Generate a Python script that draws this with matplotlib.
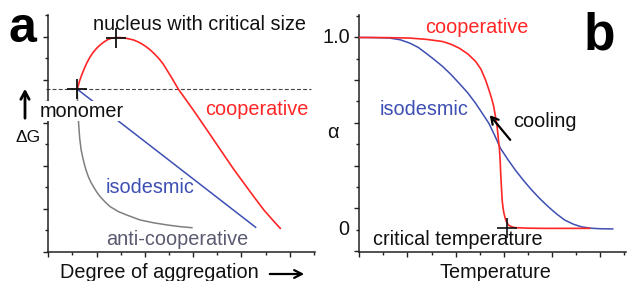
import matplotlib
matplotlib.use("Agg")
import matplotlib.pyplot as plt
from matplotlib.ticker import FixedLocator, NullFormatter

plt.rcParams['font.family'] = ['Liberation Sans', 'DejaVu Sans']

# ---------------- Panel a data (x: degree of aggregation, y: ΔG, axis-tick units)
coop_a_x = [1.20, 1.30, 1.40, 1.50, 1.59, 1.72, 1.85, 2.00, 2.15, 2.30, 2.45, 2.62, 2.80, 2.98, 3.15, 3.34,
            3.53, 3.72, 3.90, 4.06, 4.22, 4.41, 4.60, 4.76, 4.91, 5.15, 5.39, 5.62, 5.85, 6.07, 6.29,
            6.65, 7.00, 7.34, 7.68, 8.00, 8.30, 8.61, 8.92, 9.27, 9.61]
coop_a_y = [7.57, 7.97, 8.28, 8.55, 8.78, 9.05, 9.27, 9.47, 9.63, 9.76, 9.87, 9.94, 9.97, 9.97, 9.95, 9.91,
            9.86, 9.77, 9.66, 9.54, 9.40, 9.20, 8.97, 8.74, 8.47, 8.03, 7.57, 7.21, 6.85, 6.50, 6.14,
            5.55, 4.97, 4.41, 3.85, 3.36, 2.90, 2.43, 1.97, 1.52, 1.10]
iso_a_x = [1.20, 8.59]
iso_a_y = [7.57, 1.15]
anti_a_x = [1.20, 1.21, 1.23, 1.26, 1.30, 1.36, 1.45, 1.55, 1.66, 1.76, 1.87, 2.00, 2.15, 2.35, 2.56,
            2.90, 3.25, 3.80, 4.35, 4.91, 5.45, 5.95]
anti_a_y = [7.57, 7.10, 6.50, 5.90, 5.30, 4.75, 4.28, 3.85, 3.50, 3.25, 3.04, 2.80, 2.57, 2.33, 2.11,
            1.88, 1.72, 1.49, 1.36, 1.26, 1.18, 1.13]
monomer_pt = (1.20, 7.57)
nucleus_pt = (2.80, 9.97)
monomer_level = 7.57

# ---------------- Panel b data (x: temperature, y: alpha)
coop_b_x = [0.0, 1.00, 2.09, 2.80, 3.46, 3.80, 4.14, 4.50, 4.83, 5.05, 5.24, 5.40, 5.50, 5.58, 5.65, 5.72,
            5.77, 5.82, 5.85, 5.87, 5.90, 5.93, 5.97, 6.00, 6.04, 6.10, 6.20, 6.35, 6.48, 7.00, 7.60, 9.56]
coop_b_y = [1.0, 0.9995, 0.997, 0.990, 0.979, 0.965, 0.945, 0.915, 0.875, 0.835, 0.779, 0.720, 0.680,
            0.640, 0.590, 0.536, 0.475, 0.414, 0.350, 0.292, 0.220, 0.153, 0.110, 0.088, 0.066, 0.042,
            0.022, 0.013, 0.0095, 0.007, 0.006, 0.006]
iso_b_x = [0.0, 0.60, 1.26, 1.70, 2.09, 2.45, 2.77, 3.10, 3.46, 3.80, 4.14, 4.50, 4.83, 5.10, 5.38, 5.62,
           5.86, 6.17, 6.48, 6.82, 7.16, 7.50, 7.85, 8.20, 8.53, 8.90, 9.22, 9.60, 10.00, 10.52]
iso_b_y = [1.0, 0.9995, 0.997, 0.988, 0.971, 0.948, 0.918, 0.886, 0.849, 0.808, 0.762, 0.712, 0.657,
           0.606, 0.553, 0.490, 0.423, 0.364, 0.309, 0.255, 0.205, 0.160, 0.118, 0.080, 0.049, 0.027,
           0.014, 0.007, 0.004, 0.003]
critical_pt = (6.13, 0.006)

RED = '#ff2626'
BLUE = '#3d4fb3'
GRAY = '#7f7f7f'
AXC = '#222222'
FS = 14.3

W, H = 627, 281
fig = plt.figure(figsize=(W / 100, H / 100), dpi=100)


def fx(x):
    return x / W


def fy(y):
    return 1 - y / H


def style_axes(ax):
    for s in ['top', 'right']:
        ax.spines[s].set_visible(False)
    for s in ['left', 'bottom']:
        ax.spines[s].set_color(AXC)
        ax.spines[s].set_linewidth(1.1)
    ax.tick_params(which='major', direction='out', length=3.6, width=1.0, color=AXC)
    ax.tick_params(which='minor', direction='out', length=2.4, width=1.0, color=AXC)
    ax.xaxis.set_major_locator(FixedLocator([0, 2, 4, 6, 8, 10]))
    ax.xaxis.set_minor_locator(FixedLocator([1, 3, 5, 7, 9, 11]))
    ax.xaxis.set_major_formatter(NullFormatter())
    ax.set_xlim(0, 11.05)


# ---------------- Panel a
axa = fig.add_axes([fx(48.3), 1 - 252 / H, (315 - 48.3) / W, (252 - 15) / H])
style_axes(axa)
axa.set_ylim(0, 11.02)
axa.yaxis.set_major_locator(FixedLocator([0, 2, 4, 6, 8, 10]))
axa.yaxis.set_minor_locator(FixedLocator([1, 3, 5, 7, 9, 11]))
axa.yaxis.set_major_formatter(NullFormatter())

axa.axhline(monomer_level, xmin=-0.008, xmax=0.985, color='#444444', lw=0.8,
            ls=(0, (3.5, 2)), clip_on=False, zorder=1)
axa.plot(coop_a_x, coop_a_y, color=RED, lw=1.2, zorder=3)
axa.plot(iso_a_x, iso_a_y, color=BLUE, lw=1.1, zorder=2)
axa.plot(anti_a_x, anti_a_y, color=GRAY, lw=1.1, zorder=2)
axa.plot(*monomer_pt, marker='+', ms=14, mew=1.3, color='#111111', zorder=6)
axa.plot(*nucleus_pt, marker='+', ms=14, mew=1.3, color='#111111', zorder=6)

fig.text(fx(93), fy(30), 'nucleus with critical size', fontsize=FS, color='#111111', va='baseline', ha='left')
fig.text(fx(205), fy(115), 'cooperative', fontsize=FS, color=RED, va='baseline', ha='left')
fig.text(fx(40), fy(116.5), 'monomer', fontsize=FS, color='#111111', va='baseline', ha='left', zorder=5,
         bbox=dict(facecolor='white', edgecolor='none', pad=0.6))
fig.text(fx(106), fy(193), 'isodesmic', fontsize=FS, color=BLUE, va='baseline', ha='left')
fig.text(fx(106), fy(245), 'anti-cooperative', fontsize=FS, color='#5a5a70', va='baseline', ha='left')
fig.text(fx(16), fy(142), 'ΔG', fontsize=12.5, color='#111111', va='baseline', ha='left')
fig.text(fx(60), fy(278), 'Degree of aggregation', fontsize=FS, color='#111111', va='baseline', ha='left')
fig.text(fx(9), fy(41.7), 'a', fontsize=36, fontweight='bold', color='black', va='baseline', ha='left')

axa.annotate('', xy=(25, H - 86), xytext=(25, H - 121), xycoords='figure pixels',
             textcoords='figure pixels',
             arrowprops=dict(arrowstyle='->,head_length=0.55,head_width=0.3', lw=2.0, color='black'))
axa.annotate('', xy=(307, H - 274), xytext=(267, H - 274), xycoords='figure pixels',
             textcoords='figure pixels',
             arrowprops=dict(arrowstyle='->,head_length=0.55,head_width=0.28', lw=1.6, color='black'))

# ---------------- Panel b
axb = fig.add_axes([fx(359.3), 1 - 252 / H, (625.5 - 359.3) / W, (252 - 15) / H])
style_axes(axb)
axb.set_ylim(-1 / 9 - 0.006, 10 / 9 + 0.006)
ymaj = [k / 9 for k in (-1, 1, 3, 5, 7, 9)]
ymin = [k / 9 for k in (0, 2, 4, 6, 8, 10)]
axb.yaxis.set_major_locator(FixedLocator(ymaj))
axb.yaxis.set_minor_locator(FixedLocator(ymin))
axb.yaxis.set_major_formatter(NullFormatter())
axb.yaxis.set_minor_formatter(NullFormatter())

axb.plot(iso_b_x, iso_b_y, color=BLUE, lw=1.1, zorder=2)
axb.plot(coop_b_x, coop_b_y, color=RED, lw=1.2, zorder=3)
axb.plot(*critical_pt, marker='+', ms=14, mew=1.2, color='#111111', zorder=4)

fig.text(fx(350), fy(37.7), '1.0', fontsize=FS, color='#111111', va='center', ha='right')
fig.text(fx(349), fy(229.3), '0', fontsize=FS, color='#111111', va='center', ha='right')
fig.text(fx(327), fy(133), 'α', fontsize=FS, color='#111111', va='center', ha='left')
fig.text(fx(425), fy(33), 'cooperative', fontsize=FS, color=RED, va='baseline', ha='left')
fig.text(fx(380), fy(115), 'isodesmic', fontsize=FS, color=BLUE, va='baseline', ha='left')
fig.text(fx(513), fy(127), 'cooling', fontsize=FS, color='#111111', va='baseline', ha='left')
fig.text(fx(373), fy(245), 'critical temperature', fontsize=FS, color='#111111', va='baseline', ha='left')
fig.text(fx(440), fy(278), 'Temperature', fontsize=FS, color='#111111', va='baseline', ha='left')
fig.text(fx(584), fy(50), 'b', fontsize=37, fontweight='bold', color='black', va='baseline', ha='left')

axb.annotate('', xy=(488, H - 113), xytext=(512, H - 142), xycoords='figure pixels',
             textcoords='figure pixels',
             arrowprops=dict(arrowstyle='->,head_length=0.5,head_width=0.28', lw=1.6, color='black'))

fig.savefig('out.png', dpi=100, facecolor='white')
